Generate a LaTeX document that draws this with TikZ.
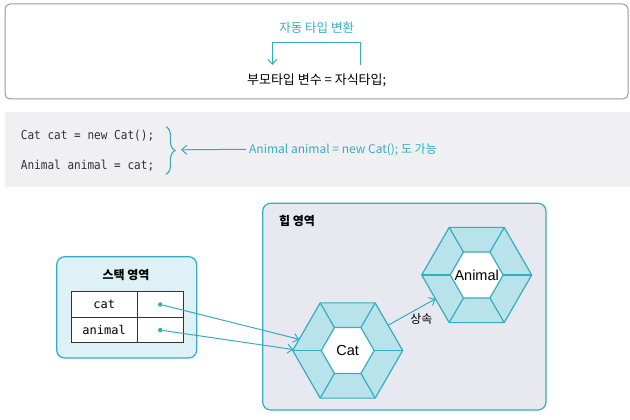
\documentclass[tikz,border=0pt]{standalone}
\usepackage{fontspec}
\usetikzlibrary{positioning,shapes.geometric,arrows.meta,decorations.pathreplacing}
\newfontfamily\kr{Noto Sans CJK KR}
\newfontfamily\codefont{DejaVu Sans Mono}[FakeStretch=0.9]
\newfontfamily\cellfont{DejaVu Sans Mono}
\newfontfamily\labelfont{Liberation Sans}
\definecolor{javateal}{HTML}{35ADC0}
\definecolor{ringfill}{HTML}{B9E3EB}
\definecolor{stackfill}{HTML}{DDF1F6}
\definecolor{heapfill}{HTML}{E8E8F0}
\definecolor{bandgray}{HTML}{F0F0F2}
\definecolor{codegray}{HTML}{303030}
\tikzset{
  barb/.style={-{Straight Barb[length=5pt,width=9pt]}},
  hexout/.style={regular polygon, regular polygon sides=6, minimum size=110pt,
    inner sep=0pt, outer sep=0pt, draw=javateal, line width=1.2pt, fill=ringfill},
  hexin/.style={hexout, minimum size=53pt, fill=white},
  hexname/.style={font=\labelfont\fontsize{14.5}{16}\selectfont, inner sep=0pt},
  cell/.style={draw=black!80, line width=0.8pt, fill=white, minimum height=25.6pt,
    inner sep=0pt, outer sep=0pt, font=\cellfont\fontsize{12}{14}\selectfont},
  ptrdot/.style={circle, fill=javateal, inner sep=0pt, minimum size=4.5pt},
  ptrline/.style={barb, draw=javateal, line width=1pt},
  codeline/.style={anchor=west, inner sep=0pt, text=codegray,
    font=\codefont\fontsize{12.3}{14}\selectfont},
  areatitle/.style={font=\kr\bfseries\fontsize{12}{14}\selectfont},
}
\begin{document}
\begin{tikzpicture}[x=1pt,y=1pt]
  \useasboundingbox (0,0) rectangle (630,420);
  % top rule box
  \draw[black!40, line width=1pt, rounded corners=5pt] (5,416) rectangle (628,321);
  \node[font=\kr\fontsize{13}{15}\selectfont] (rule) at (316.7,340) {부모타입 변수 = 자식타입;};
  \coordinate (parent) at (272.3,355);
  \coordinate (child) at (360.7,355);
  \draw[barb, javateal, line width=1pt] (child) -- ++(0,22.7) -| (parent);
  \node[javateal, font=\kr\fontsize{12.5}{14}\selectfont] (autoconv) at (316.7,392) {자동 타입 변환};
  % code band
  \fill[bandgray] (5,308.3) rectangle (630,233);
  \node[codeline] (line1) at (20.7,284.3) {Cat cat = new Cat();};
  \node[codeline] (line2) at (20.7,254.3) {Animal animal = cat;};
  \coordinate (bracetop) at (166,293.3);
  \coordinate (bracebot) at (166,245.7);
  \draw[javateal, line width=1.1pt, decorate, decoration={brace, amplitude=9pt}]
    (bracetop) -- (bracebot);
  \coordinate (btip) at (181,270.2);
  \node[anchor=west, inner sep=3pt, javateal, font=\kr\fontsize{12}{14}\selectfont]
    (note) at (246,270.7) {Animal animal = new Cat(); 도 가능};
  \draw[barb, javateal, line width=1pt] (note.west) -- (btip);
  % stack area
  \draw[javateal, fill=stackfill, line width=1.2pt, rounded corners=8pt] (56.7,163.3) rectangle (196.7,62);
  \node[areatitle] (stack) at (126,145) {스택 영역};
  \node[cell, minimum width=66.3pt, anchor=north west] (cellcat) at (71,128.3) {cat};
  \node[cell, minimum width=46pt, right=0pt of cellcat] (ptrcat) {};
  \node[cell, minimum width=66.3pt, below=0pt of cellcat] (cellanimal) {animal};
  \node[cell, minimum width=46pt, right=0pt of cellanimal] (ptranimal) {};
  \node[ptrdot] (dotcat) at (ptrcat) {};
  \node[ptrdot] (dotanimal) at (ptranimal) {};
  % heap area
  \draw[javateal, fill=heapfill, line width=1.2pt, rounded corners=8pt] (262.7,216.7) rectangle (546,10);
  \node[areatitle] (heap) at (297,199) {힙 영역};
  % Cat object
  \node[hexout] (catout) at (347.7,69.5) {};
  \node[hexin] (catin) at (catout.center) {};
  \foreach \i in {1,...,6}
    \draw[javateal, line width=1.2pt] (catout.corner \i) -- (catin.corner \i);
  \node[hexname] (catname) at (catin) {Cat};
  % Animal object
  \node[hexout] (animout) at (476.7,145) {};
  \node[hexin] (animin) at (animout.center) {};
  \foreach \i in {1,...,6}
    \draw[javateal, line width=1.2pt] (animout.corner \i) -- (animin.corner \i);
  \node[hexname] (animname) at (animin) {Animal};
  % references and inheritance
  \draw[ptrline] (dotcat) -- (catout.167);
  \draw[ptrline] (dotanimal) -- (catout.179);
  \draw[ptrline] (catout.32) -- (animout.210)
    node[midway, anchor=north west, xshift=-3pt, inner sep=1pt, font=\kr\fontsize{12}{14}\selectfont] (inherit) {상속};
\end{tikzpicture}
\end{document}
